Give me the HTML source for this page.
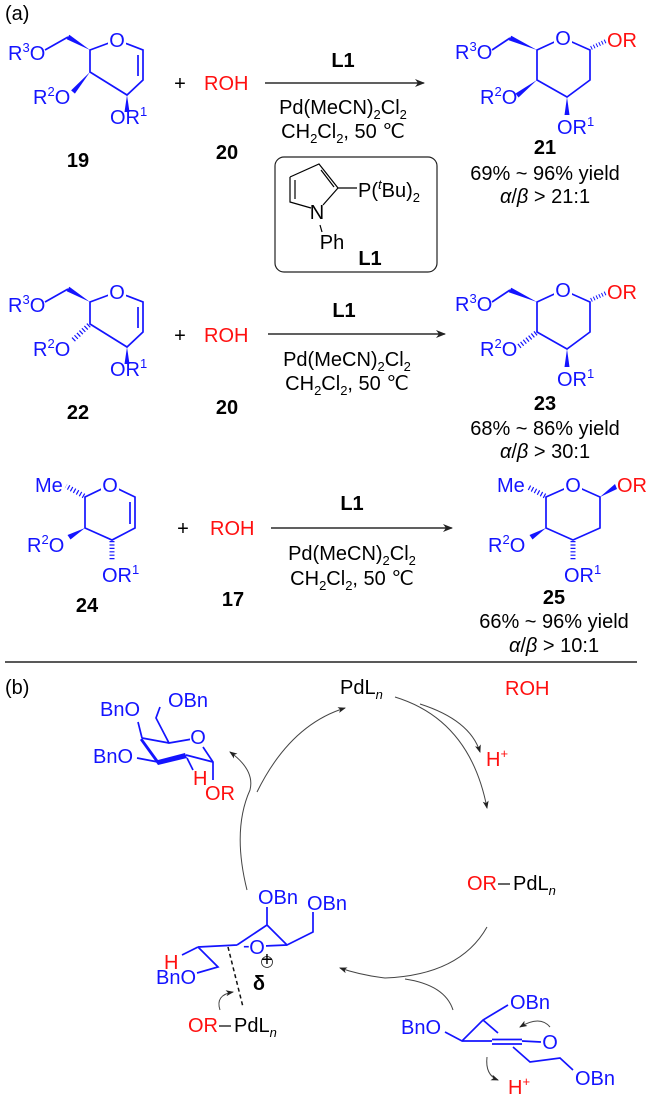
<!DOCTYPE html>
<html><head><meta charset="utf-8"><style>
html,body{margin:0;padding:0;background:#fff;}
svg{display:block;}
text{font-family:"Liberation Sans",Arial,sans-serif;font-size:20px;}
.b{fill:#1414ff;}
.r{fill:#ff1010;}
.k{fill:#000;}
.bd{font-weight:bold;}
.bl{stroke:#1414ff;stroke-width:1.7;fill:none;}
.kl{stroke:#000;stroke-width:1.2;fill:none;}
.hash{stroke:#1414ff;stroke-width:5;stroke-dasharray:1.2 2.2;fill:none;}
.cv{stroke:#444;stroke-width:1;fill:none;}
</style></head><body>
<svg width="650" height="1104" viewBox="0 0 650 1104" xmlns="http://www.w3.org/2000/svg">
<defs>
<marker id="ah" markerWidth="10" markerHeight="8" refX="9" refY="4" orient="auto" markerUnits="userSpaceOnUse"><path d="M0,0 L10,4 L0,8 L3,4 z" fill="#222"/></marker>
<marker id="ahs" markerWidth="8" markerHeight="6" refX="7" refY="3" orient="auto" markerUnits="userSpaceOnUse"><path d="M0,0 L8,3 L0,6 L2,3 z" fill="#222"/></marker>
</defs>

<text x="5" y="20" class="k">(a)</text>

<!-- ===== Row 1: compound 19 ===== -->
<path class="bl" d="M90,50 L117,40 L143,50 L143,80 L127,95 L90,72 Z"/>
<line class="bl" x1="138" y1="55" x2="138" y2="76"/>
<line class="bl" x1="68" y1="37" x2="45" y2="50"/>
<polygon fill="#1414ff" points="90,50 69.3,34.8 66.7,39.2"/>
<polygon fill="#1414ff" points="127,95 129.5,112 124.5,112"/>
<polygon fill="#1414ff" points="90,72 74.9,93.6 71.1,90.4"/>
<rect x="108" y="31" width="18" height="18" fill="#fff"/>
<text x="117" y="47" text-anchor="middle" class="b">O</text>
<text x="8" y="60" class="b">R<tspan font-size="13" dy="-8">3</tspan><tspan dy="8">O</tspan></text>
<text x="33" y="104" class="b">R<tspan font-size="13" dy="-8">2</tspan><tspan dy="8">O</tspan></text>
<text x="110" y="124" class="b">OR<tspan font-size="13" dy="-8">1</tspan></text>
<text x="78" y="167" text-anchor="middle" class="k bd">19</text>

<text x="180" y="90" text-anchor="middle" class="k">+</text>
<text x="204" y="90" class="r">ROH</text>
<text x="227" y="159" text-anchor="middle" class="k bd">20</text>

<line class="kl" x1="265" y1="83" x2="424" y2="83" marker-end="url(#ah)"/>
<text x="343" y="67" text-anchor="middle" class="k bd">L1</text>
<text x="343" y="114" text-anchor="middle" class="k">Pd(MeCN)<tspan font-size="13" dy="5">2</tspan><tspan dy="-5">Cl</tspan><tspan font-size="13" dy="5">2</tspan></text>
<text x="343" y="138" text-anchor="middle" class="k">CH<tspan font-size="13" dy="5">2</tspan><tspan dy="-5">Cl</tspan><tspan font-size="13" dy="5">2</tspan><tspan dy="-5">, 50 ℃</tspan></text>

<!-- L1 box -->
<rect x="275" y="157" width="162" height="115" rx="9" ry="9" fill="none" stroke="#222" stroke-width="1.2"/>
<path class="kl" d="M290,177 L319,164 L338,188 L323,205 M311,208 L290,202 L290,177" />
<line class="kl" x1="295" y1="180" x2="295" y2="199"/>
<line class="kl" x1="321" y1="170" x2="334" y2="187"/>
<line class="kl" x1="338" y1="188" x2="357" y2="188"/>
<line class="kl" x1="320" y1="225" x2="322" y2="232"/>
<text x="317" y="219" text-anchor="middle" class="k">N</text>
<text x="358" y="197" class="k">P(<tspan font-style="italic" font-size="13" dy="-8">t</tspan><tspan dy="8">Bu)</tspan><tspan font-size="13" dy="5">2</tspan></text>
<text x="332" y="249" text-anchor="middle" class="k">Ph</text>
<text x="370" y="265" text-anchor="middle" class="k bd">L1</text>

<!-- Product 21 -->
<path class="bl" d="M537,50 L563,38 L590,50 L590,80 L567,97 L537,80 Z"/>
<line class="bl" x1="510" y1="38" x2="492" y2="50"/>
<polygon fill="#1414ff" points="537,50 511.3,35.8 508.7,40.2"/>
<polygon fill="#1414ff" points="537,80 518.5,97.5 515.5,93.5"/>
<polygon fill="#1414ff" points="567,97 569.5,115 564.5,115"/>
<line stroke="#1414ff" stroke-width="4" stroke-dasharray="1 2" x1="591" y1="48" x2="606" y2="41"/>
<rect x="554" y="29" width="18" height="18" fill="#fff"/>
<text x="563" y="45" text-anchor="middle" class="b">O</text>
<text x="607" y="47" class="r">OR</text>
<text x="455" y="59" class="b">R<tspan font-size="13" dy="-8">3</tspan><tspan dy="8">O</tspan></text>
<text x="480" y="104" class="b">R<tspan font-size="13" dy="-8">2</tspan><tspan dy="8">O</tspan></text>
<text x="557" y="134" class="b">OR<tspan font-size="13" dy="-8">1</tspan></text>
<text x="545" y="154" text-anchor="middle" class="k bd">21</text>
<text x="545" y="180" text-anchor="middle" class="k">69% ~ 96% yield</text>
<text x="545" y="203" text-anchor="middle" class="k"><tspan font-style="italic">α</tspan>/<tspan font-style="italic">β</tspan> &gt; 21:1</text>

<!-- ===== Row 2 ===== -->
<g transform="translate(0,252)">
<path class="bl" d="M90,50 L117,40 L143,50 L143,80 L127,95 L90,72 Z"/>
<line class="bl" x1="138" y1="55" x2="138" y2="76"/>
<line class="bl" x1="68" y1="37" x2="45" y2="50"/>
<polygon fill="#1414ff" points="90,50 69.3,34.8 66.7,39.2"/>
<polygon fill="#1414ff" points="127,95 129.5,112 124.5,112"/>
<line class="hash" x1="89" y1="73" x2="72" y2="89"/>
<rect x="108" y="31" width="18" height="18" fill="#fff"/>
<text x="117" y="47" text-anchor="middle" class="b">O</text>
<text x="8" y="60" class="b">R<tspan font-size="13" dy="-8">3</tspan><tspan dy="8">O</tspan></text>
<text x="33" y="104" class="b">R<tspan font-size="13" dy="-8">2</tspan><tspan dy="8">O</tspan></text>
<text x="110" y="124" class="b">OR<tspan font-size="13" dy="-8">1</tspan></text>
<text x="180" y="90" text-anchor="middle" class="k">+</text>
<text x="204" y="90" class="r">ROH</text>
<line class="kl" x1="268" y1="82" x2="445" y2="82" marker-end="url(#ah)"/>
<text x="344" y="65" text-anchor="middle" class="k bd">L1</text>
<text x="347" y="114" text-anchor="middle" class="k">Pd(MeCN)<tspan font-size="13" dy="5">2</tspan><tspan dy="-5">Cl</tspan><tspan font-size="13" dy="5">2</tspan></text>
<text x="347" y="138" text-anchor="middle" class="k">CH<tspan font-size="13" dy="5">2</tspan><tspan dy="-5">Cl</tspan><tspan font-size="13" dy="5">2</tspan><tspan dy="-5">, 50 ℃</tspan></text>

<path class="bl" d="M537,50 L563,38 L590,50 L590,80 L567,97 L537,80 Z"/>
<line class="bl" x1="510" y1="38" x2="492" y2="50"/>
<polygon fill="#1414ff" points="537,50 511.3,35.8 508.7,40.2"/>
<line class="hash" x1="536" y1="81" x2="518" y2="95"/>
<polygon fill="#1414ff" points="567,97 569.5,115 564.5,115"/>
<line stroke="#1414ff" stroke-width="4" stroke-dasharray="1 2" x1="591" y1="48" x2="606" y2="41"/>
<rect x="554" y="29" width="18" height="18" fill="#fff"/>
<text x="563" y="45" text-anchor="middle" class="b">O</text>
<text x="607" y="47" class="r">OR</text>
<text x="455" y="59" class="b">R<tspan font-size="13" dy="-8">3</tspan><tspan dy="8">O</tspan></text>
<text x="480" y="104" class="b">R<tspan font-size="13" dy="-8">2</tspan><tspan dy="8">O</tspan></text>
<text x="557" y="134" class="b">OR<tspan font-size="13" dy="-8">1</tspan></text>
</g>
<text x="78" y="419" text-anchor="middle" class="k bd">22</text>
<text x="227" y="414" text-anchor="middle" class="k bd">20</text>
<text x="545" y="410" text-anchor="middle" class="k bd">23</text>
<text x="545" y="435" text-anchor="middle" class="k">68% ~ 86% yield</text>
<text x="545" y="458" text-anchor="middle" class="k"><tspan font-style="italic">α</tspan>/<tspan font-style="italic">β</tspan> &gt; 30:1</text>

<!-- ===== Row 3 ===== -->
<path class="bl" d="M85,497 L110,485 L135,497 L135,528 L112,540 L85,528 Z"/>
<line class="bl" x1="130" y1="502" x2="130" y2="524"/>
<line class="hash" x1="84" y1="496" x2="66" y2="486"/>
<polygon fill="#1414ff" points="85,528 70.5,539.5 67.5,535"/>
<line class="hash" x1="112" y1="541" x2="112" y2="560"/>
<rect x="101" y="476" width="18" height="18" fill="#fff"/>
<text x="110" y="492" text-anchor="middle" class="b">O</text>
<text x="35" y="492" class="b">Me</text>
<text x="27" y="552" class="b">R<tspan font-size="13" dy="-8">2</tspan><tspan dy="8">O</tspan></text>
<text x="102" y="582" class="b">OR<tspan font-size="13" dy="-8">1</tspan></text>
<text x="87" y="612" text-anchor="middle" class="k bd">24</text>
<text x="183" y="535" text-anchor="middle" class="k">+</text>
<text x="210" y="535" class="r">ROH</text>
<text x="233" y="606" text-anchor="middle" class="k bd">17</text>
<line class="kl" x1="271" y1="528" x2="452" y2="528" marker-end="url(#ah)"/>
<text x="352" y="510" text-anchor="middle" class="k bd">L1</text>
<text x="352" y="560" text-anchor="middle" class="k">Pd(MeCN)<tspan font-size="13" dy="5">2</tspan><tspan dy="-5">Cl</tspan><tspan font-size="13" dy="5">2</tspan></text>
<text x="352" y="585" text-anchor="middle" class="k">CH<tspan font-size="13" dy="5">2</tspan><tspan dy="-5">Cl</tspan><tspan font-size="13" dy="5">2</tspan><tspan dy="-5">, 50 ℃</tspan></text>

<path class="bl" d="M546,497 L573,485 L600,497 L600,528 L573,540 L546,528 Z"/>
<line class="hash" x1="545" y1="496" x2="528" y2="487"/>
<polygon fill="#1414ff" points="546,528 532.5,539.5 529.5,535"/>
<line class="hash" x1="573" y1="541" x2="573" y2="560"/>
<polygon fill="#1414ff" points="600,497 615,484 617,489"/>
<rect x="564" y="476" width="18" height="18" fill="#fff"/>
<text x="573" y="492" text-anchor="middle" class="b">O</text>
<text x="497" y="492" class="b">Me</text>
<text x="617" y="492" class="r">OR</text>
<text x="488" y="552" class="b">R<tspan font-size="13" dy="-8">2</tspan><tspan dy="8">O</tspan></text>
<text x="564" y="582" class="b">OR<tspan font-size="13" dy="-8">1</tspan></text>
<text x="554" y="604" text-anchor="middle" class="k bd">25</text>
<text x="554" y="628" text-anchor="middle" class="k">66% ~ 96% yield</text>
<text x="554" y="652" text-anchor="middle" class="k"><tspan font-style="italic">α</tspan>/<tspan font-style="italic">β</tspan> &gt; 10:1</text>

<line x1="5" y1="662" x2="637" y2="662" stroke="#222" stroke-width="1.5"/>

<!-- ===== (b) ===== -->
<text x="5" y="694" class="k">(b)</text>

<path class="bl" d="M160,707 L156,718 L169,743 L198,738 M203,747 L213,762 L213,780 M187,758 L193,770 M142,738 L138,722 M158,762 L137,758 M142,738 L169,743"/>
<polygon fill="#1414ff" points="142,738 158,760 158,765 140,740"/>
<polygon fill="#1414ff" points="158,760 185,753 187,758 158,765"/>
<line class="bl" x1="186" y1="755" x2="213" y2="762" stroke-width="3"/>
<rect x="190" y="728" width="16" height="17" fill="#fff"/>
<text x="168" y="707" class="b">OBn</text>
<text x="100" y="716" class="b">BnO</text>
<text x="93" y="763" class="b">BnO</text>
<text x="198" y="744" text-anchor="middle" class="b">O</text>
<text x="193" y="785" class="r">H</text>
<text x="205" y="800" class="r">OR</text>

<text x="340" y="694" class="k">PdL<tspan font-style="italic" font-size="13" dy="5">n</tspan></text>
<text x="505" y="695" class="r">ROH</text>
<text x="486" y="766" class="r">H<tspan font-size="13" dy="-8">+</tspan></text>
<text x="467" y="890" class="r">OR</text>
<text x="513" y="890" class="k">PdL<tspan font-style="italic" font-size="13" dy="5">n</tspan></text>
<line class="kl" x1="498" y1="884" x2="510" y2="884"/>

<path class="cv" d="M257,792 Q290,725 345,708" marker-end="url(#ahs)"/>
<path class="cv" d="M247,890 Q232,830 250,790 Q255,770 230,752" marker-end="url(#ahs)"/>
<path class="cv" d="M395,697 Q470,720 487,808" marker-end="url(#ahs)"/>
<path class="cv" d="M420,704 Q470,720 480,752" marker-end="url(#ahs)"/>
<path class="cv" d="M487,927 Q460,975 385,978 Q360,975 340,968" marker-end="url(#ahs)"/>
<path class="cv" d="M405,979 Q445,985 453,1010"/>

<path class="bl" d="M267,925 L267,907 M237,945 L267,925 L287,945 L313,932 L313,912 M198,947 L237,945 M198,947 L218,967 L197,973 M182,955 L198,947"/>
<line class="bl" x1="287" y1="945" x2="264" y2="946"/>
<line x1="228" y1="947" x2="243" y2="1007" stroke="#111" stroke-width="1.5" stroke-dasharray="4 3"/>
<text x="258" y="904" class="b">OBn</text>
<text x="307" y="910" class="b">OBn</text>
<rect x="249" y="938" width="17" height="17" fill="#fff"/>
<text x="257" y="954" text-anchor="middle" class="b">O</text>
<text x="243" y="952" class="b" font-size="13">-</text>
<text x="156" y="984" class="b">BnO</text>
<text x="164" y="969" class="r">H</text>
<circle cx="267" cy="962" r="5.5" fill="none" stroke="#222" stroke-width="0.8"/>
<text x="267" y="966" text-anchor="middle" class="k" font-size="11">+</text>
<text x="259" y="990" text-anchor="middle" class="k bd">δ</text>
<path class="cv" d="M220,1010 Q215,995 233,992" marker-end="url(#ahs)"/>
<text x="188" y="1032" class="r">OR</text>
<text x="234" y="1032" class="k">PdL<tspan font-style="italic" font-size="13" dy="5">n</tspan></text>
<line class="kl" x1="219" y1="1026" x2="231" y2="1026"/>

<path class="bl" d="M445,1032 L462,1041 L483,1020 L508,1005 M483,1020 L498,1033 M462,1041 L492,1041 M522,1041 L541,1042 M513,1047 L530,1062 L560,1058 L573,1070"/>
<line class="bl" x1="492" y1="1039.5" x2="522" y2="1039.5"/>
<line class="bl" x1="492" y1="1044" x2="522" y2="1044"/>
<text x="401" y="1034" class="b">BnO</text>
<text x="510" y="1009" class="b">OBn</text>
<text x="550" y="1049" text-anchor="middle" class="b">O</text>
<text x="575" y="1085" class="b">OBn</text>
<path class="cv" d="M550,1027 Q540,1015 520,1027" marker-end="url(#ahs)"/>
<path class="cv" d="M487,1057 Q485,1075 498,1080" marker-end="url(#ahs)"/>
<text x="508" y="1094" class="r">H<tspan font-size="13" dy="-8">+</tspan></text>
</svg>
</body></html>
